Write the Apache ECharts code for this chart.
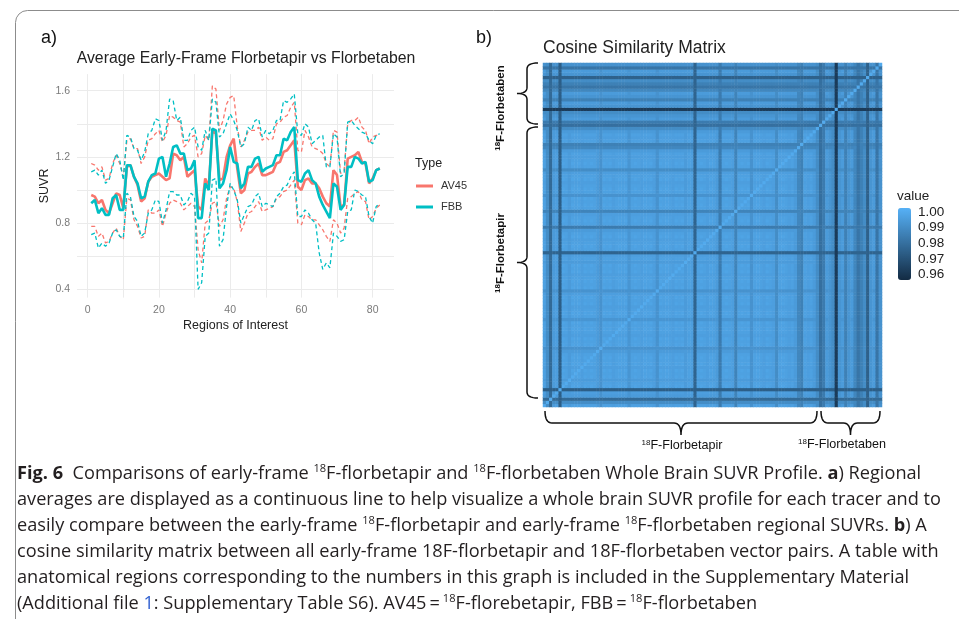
<!DOCTYPE html>
<html><head><meta charset="utf-8">
<script src="https://cdn.jsdelivr.net/npm/echarts@6/dist/echarts.min.js"></script>
<style>html,body{margin:0;padding:0;background:#fff}#c{width:959px;height:619px}</style>
</head><body><div id="c"></div>
<script>
// ---------- Panel a) data ----------
const regions = [1,2,3,4,5,6,7,8,9,10,11,12,13,14,15,16,17,18,19,20,21,22,23,24,25,26,27,28,29,30,31,32,33,34,35,36,37,38,39,40,41,42,43,44,45,46,47,48,49,50,51,52,53,54,55,56,57,58,59,60,61,62,63,64,65,66,67,68,69,70,71,72,73,74,75,76,77,78,79,80,81,82];
const av45Mean = [0.97,0.96,0.92,0.94,0.88,0.86,0.92,0.98,0.97,0.89,1.14,1.15,1.08,1.03,0.93,0.95,1.05,1.08,1.09,1.10,1.08,1.06,1.07,1.22,1.21,1.18,1.20,1.08,1.10,1.12,0.90,0.88,1.07,1.02,1.36,1.34,1.06,1.07,1.20,1.27,1.31,1.13,0.98,1.00,1.10,1.11,1.14,1.16,1.09,1.09,1.10,1.11,1.16,1.17,1.23,1.24,1.27,1.30,1.02,1.00,1.06,1.07,1.04,1.04,1.01,0.96,0.92,0.90,1.12,1.09,0.90,0.91,1.19,1.20,1.21,1.23,1.17,1.16,1.04,1.07,1.12,1.13];
const av45Upper = [1.16,1.15,1.12,1.14,1.06,1.07,1.16,1.21,1.16,1.08,1.30,1.31,1.25,1.25,1.16,1.20,1.30,1.31,1.34,1.36,1.29,1.33,1.45,1.44,1.42,1.41,1.26,1.28,1.32,1.33,1.20,1.22,1.33,1.30,1.63,1.61,1.36,1.42,1.52,1.56,1.57,1.38,1.26,1.30,1.35,1.36,1.36,1.38,1.30,1.32,1.30,1.31,1.40,1.41,1.44,1.45,1.50,1.53,1.24,1.23,1.36,1.32,1.26,1.25,1.24,1.22,1.16,1.14,1.36,1.35,1.10,1.12,1.40,1.42,1.42,1.44,1.38,1.36,1.28,1.32,1.33,1.33];
const av45Lower = [0.78,0.78,0.72,0.74,0.68,0.69,0.74,0.77,0.72,0.70,0.95,0.94,0.82,0.78,0.71,0.72,0.88,0.86,0.86,0.88,0.78,0.86,0.92,0.94,0.93,0.92,0.88,0.90,0.92,0.90,0.64,0.56,0.80,0.82,0.92,0.93,0.78,0.82,0.95,1.02,1.01,0.93,0.75,0.80,0.86,0.87,0.90,0.93,0.87,0.88,0.89,0.90,0.95,0.96,0.99,1.00,1.03,1.06,0.80,0.79,0.85,0.84,0.82,0.82,0.79,0.76,0.72,0.69,0.82,0.80,0.74,0.77,0.95,0.96,0.98,0.99,0.94,0.93,0.82,0.84,0.89,0.91];
const fbbMean = [0.92,0.94,0.86,0.89,0.85,0.85,0.95,0.97,0.88,0.88,1.15,1.15,1.08,1.04,0.95,0.96,1.05,1.09,1.10,1.19,1.20,1.08,1.16,1.26,1.27,1.22,1.22,1.12,1.13,1.18,0.83,0.83,1.04,1.00,1.37,1.36,1.01,1.04,1.12,1.26,1.17,1.16,1.01,1.04,1.14,1.14,1.19,1.20,1.11,1.13,1.14,1.15,1.21,1.21,1.31,1.30,1.35,1.38,1.06,1.05,1.10,1.12,1.06,1.04,0.96,0.91,0.87,0.83,1.04,1.02,0.88,0.91,1.14,1.14,1.20,1.19,1.16,1.17,1.05,1.06,1.12,1.13];
const fbbUpper = [1.11,1.12,1.09,1.12,1.04,1.06,1.14,1.22,1.18,1.06,1.33,1.32,1.25,1.24,1.18,1.23,1.34,1.36,1.43,1.42,1.30,1.36,1.55,1.54,1.42,1.44,1.30,1.30,1.36,1.38,1.26,1.24,1.36,1.30,1.55,1.53,1.32,1.34,1.40,1.46,1.42,1.36,1.26,1.28,1.38,1.36,1.42,1.43,1.32,1.36,1.34,1.36,1.42,1.42,1.54,1.53,1.55,1.58,1.34,1.33,1.40,1.38,1.28,1.30,1.32,1.33,1.14,1.14,1.34,1.32,1.08,1.10,1.41,1.42,1.39,1.37,1.35,1.34,1.30,1.28,1.33,1.34];
const fbbLower = [0.73,0.74,0.65,0.68,0.66,0.68,0.74,0.76,0.72,0.71,0.98,0.96,0.84,0.81,0.72,0.74,0.86,0.88,0.94,0.93,0.80,0.88,0.99,0.99,0.97,0.97,0.91,0.93,0.98,0.96,0.40,0.44,0.72,0.74,1.06,1.07,0.66,0.70,0.90,1.04,1.00,0.94,0.80,0.85,0.90,0.91,0.96,0.98,0.90,0.92,0.91,0.90,0.96,0.98,1.02,1.03,1.08,1.11,0.84,0.84,0.88,0.86,0.82,0.80,0.62,0.52,0.56,0.53,0.74,0.72,0.69,0.70,0.87,0.88,1.00,0.99,0.97,0.96,0.84,0.80,0.90,0.92];
const xTickLabels = [0,20,40,60,80];
const xGridValues = [0,10,20,30,40,50,60,70,80];
const yTickLabels = [0.4,0.8,1.2,1.6];
const yGridValues = [0.4,0.6,0.8,1.0,1.2,1.4,1.6];

// ---------- Panel b) data ----------
const nFlorbetapir = 88;
const nFlorbetaben = 20;
// estimated overall similarity level of each subject (row/column stripe darkness)
const subjectSimilarity = [
  0.997,0.990,0.978,0.995,0.996,0.974,0.998,0.997,0.995,0.998,
  0.997,0.998,0.996,0.998,0.997,0.998,0.997,0.995,0.992,0.998,
  0.997,0.998,0.996,0.997,0.998,0.997,0.998,0.993,0.997,0.998,
  0.997,0.996,0.998,0.997,0.998,0.996,0.992,0.998,0.997,0.998,
  0.997,0.996,0.998,0.997,0.998,0.995,0.997,0.996,0.976,0.997,
  0.998,0.997,0.996,0.998,0.997,0.995,0.984,0.997,0.998,0.997,
  0.996,0.987,0.997,0.998,0.997,0.998,0.992,0.997,0.998,0.997,
  0.996,0.998,0.997,0.996,0.990,0.997,0.998,0.997,0.996,0.997,
  0.995,0.988,0.986,0.997,0.996,0.997,0.995,0.990,0.980,0.984,
  0.995,0.993,0.990,0.962,0.993,0.995,0.986,0.993,0.995,0.988,
  0.982,0.986,0.990,0.975,0.993,0.995,0.982,0.992];
const legendTicks = [0.96,0.97,0.98,0.99,1.00];
const colorLow = '#132B43', colorHigh = '#56B1F7';
const scaleMin = 0.9565, scaleMax = 1.0025;

// ---------- build ----------
const N = nFlorbetapir + nFlorbetaben;
const subjects = [];
for (let i = 0; i < N; i++) subjects.push(i < nFlorbetapir ? 'AV45-' + (i + 1) : 'FBB-' + (i - nFlorbetapir + 1));
const cells = [];
for (let i = 0; i < N; i++) for (let j = 0; j < N; j++)
  cells.push([i, j, i === j ? 1 : Math.min(subjectSimilarity[i], subjectSimilarity[j])]);
const pairs = a => regions.map((r, i) => [r, a[i]]);

const RED = '#F8766D', TEAL = '#00BFC4';
const SANS = 'Liberation Sans, Arial, sans-serif';

function lineSeries(name, arr, color, dashed) {
  return {
    type: 'line', name, xAxisIndex: 0, yAxisIndex: 0, data: pairs(arr),
    symbol: 'none', showSymbol: false, silent: true, z: dashed ? 2 : 3,
    itemStyle: { color }, color,
    lineStyle: { color, width: dashed ? 1.3 : 2.6, type: dashed ? [4, 3] : 'solid' }
  };
}

// quadratic curve sampler for braces (annotation shapes)
function quad(p0, c, p1, out) {
  for (let k = 1; k <= 8; k++) {
    const t = k / 8, u = 1 - t;
    out.push([u * u * p0[0] + 2 * u * t * c[0] + t * t * p1[0], u * u * p0[1] + 2 * u * t * c[1] + t * t * p1[1]]);
  }
}
function vBrace(xe, xl, xt, y1, y2, r) {
  const ym = (y1 + y2) / 2, p = [[xe, y1]];
  quad([xe, y1], [xl, y1], [xl, y1 + r], p);
  p.push([xl, ym - r]);
  quad([xl, ym - r], [xl, ym], [xt, ym], p);
  quad([xt, ym], [xl, ym], [xl, ym + r], p);
  p.push([xl, y2 - r]);
  quad([xl, y2 - r], [xl, y2], [xe, y2], p);
  return p;
}
function hBrace(ye, yl, yt, x1, x2, r) {
  const xm = (x1 + x2) / 2, p = [[x1, ye]];
  quad([x1, ye], [x1, yl], [x1 + r, yl], p);
  p.push([xm - r, yl]);
  quad([xm - r, yl], [xm, yl], [xm, yt], p);
  quad([xm, yt], [xm, yl], [xm + r, yl], p);
  p.push([x2 - r, yl]);
  quad([x2 - r, yl], [x2, yl], [x2, ye], p);
  return p;
}
const braceStyle = { fill: 'none', stroke: '#111', lineWidth: 1.5 };

// caption
const CAP_FONT = 'Open Sans, sans-serif';
const CAP_SIZE = 18;
const capLines = [
  '{b|Fig. 6}  Comparisons of early-frame {s|18}F-florbetapir and {s|18}F-florbetaben Whole Brain SUVR Profile. {b|a}) Regional',
  'averages are displayed as a continuous line to help visualize a whole brain SUVR profile for each tracer and to',
  'easily compare between the early-frame {s|18}F-florbetapir and early-frame {s|18}F-florbetaben regional SUVRs. {b|b}) A',
  'cosine similarity matrix between all early-frame 18F-florbetapir and 18F-florbetaben vector pairs. A table with',
  'anatomical regions corresponding to the numbers in this graph is included in the Supplementary Material',
  '(Additional file {l|1}: Supplementary Table S6). AV45\u2009=\u2009{s|18}F-florebetapir, FBB\u2009=\u2009{s|18}F-florbetaben'
];
const mctx = document.createElement('canvas').getContext('2d');
mctx.font = CAP_SIZE + 'px ' + CAP_FONT;
const capScale = 924 / mctx.measureText(capLines[1]).width;
const capRich = {
  b: { fontFamily: CAP_FONT, fontSize: CAP_SIZE, fontWeight: 'bold', fill: '#231f20', lineHeight: 22 },
  s: { fontFamily: CAP_FONT, fontSize: 11, fill: '#231f20', verticalAlign: 'top', lineHeight: 22 },
  l: { fontFamily: CAP_FONT, fontSize: CAP_SIZE, fill: '#2f5fd0', lineHeight: 22 }
};
const supRich = w => ({ s: { fontFamily: SANS, fontSize: 8, fontWeight: w, fill: '#111', verticalAlign: 'top', lineHeight: 14 } });
const graphics = [
  { type: 'rect', silent: true, shape: { x: 15.5, y: 10.5, width: 980, height: 660, r: 12 }, style: { fill: 'none', stroke: '#8c8c8c', lineWidth: 1 } },
  { type: 'text', x: 41, y: 38, style: { text: 'a)', fontFamily: SANS, fontSize: 18, fill: '#111', verticalAlign: 'middle' } },
  { type: 'text', x: 476, y: 38, style: { text: 'b)', fontFamily: SANS, fontSize: 18, fill: '#111', verticalAlign: 'middle' } },
  { type: 'text', x: 246, y: 59, style: { text: 'Average Early-Frame Florbetapir vs Florbetaben', fontFamily: SANS, fontSize: 15.8, fill: '#222', align: 'center', verticalAlign: 'middle' } },
  { type: 'text', x: 415, y: 164, style: { text: 'Type', fontFamily: SANS, fontSize: 12.5, fill: '#222', verticalAlign: 'middle' } },
  { type: 'text', x: 543, y: 48, style: { text: 'Cosine Similarity Matrix', fontFamily: SANS, fontSize: 17.5, fill: '#222', verticalAlign: 'middle' } },
  { type: 'text', x: 897, y: 196, style: { text: 'value', fontFamily: SANS, fontSize: 13.5, fill: '#222', verticalAlign: 'middle' } },
  { type: 'polyline', silent: true, shape: { points: vBrace(538, 527, 517, 63, 124, 6) }, style: braceStyle },
  { type: 'polyline', silent: true, shape: { points: vBrace(538, 527, 517, 127, 398, 6) }, style: braceStyle },
  { type: 'polyline', silent: true, shape: { points: hBrace(411, 423, 435, 545, 817, 7) }, style: braceStyle },
  { type: 'polyline', silent: true, shape: { points: hBrace(411, 423, 435, 821, 880, 7) }, style: braceStyle },
  { type: 'text', x: 501, y: 108, rotation: Math.PI / 2, style: { text: '{s|18}F-Florbetaben', fontFamily: SANS, fontSize: 11.5, fontWeight: 'bold', fill: '#111', align: 'center', verticalAlign: 'middle', rich: supRich('bold') } },
  { type: 'text', x: 501, y: 253, rotation: Math.PI / 2, style: { text: '{s|18}F-Florbetapir', fontFamily: SANS, fontSize: 11.5, fontWeight: 'bold', fill: '#111', align: 'center', verticalAlign: 'middle', rich: supRich('bold') } },
  { type: 'text', x: 682, y: 446, style: { text: '{s|18}F-Florbetapir', fontFamily: SANS, fontSize: 12.6, fill: '#111', align: 'center', verticalAlign: 'middle', rich: supRich('normal') } },
  { type: 'text', x: 842, y: 445, style: { text: '{s|18}F-Florbetaben', fontFamily: SANS, fontSize: 12.6, fill: '#111', align: 'center', verticalAlign: 'middle', rich: supRich('normal') } }
];
capLines.forEach((t, i) => {
  graphics.push({ type: 'text', x: 17, y: 474 + i * 26, scaleX: capScale, style: { text: t, fontFamily: CAP_FONT, fontSize: CAP_SIZE, fill: '#231f20', verticalAlign: 'middle', lineHeight: 22, rich: capRich } });
});

const chart = echarts.init(document.getElementById('c'), null, { renderer: 'canvas' });
chart.setOption({
  animation: false,
  backgroundColor: '#fff',
  grid: [
    { left: 77, top: 74.15, width: 317, height: 223.45 },
    { left: 543, top: 63, width: 339, height: 344 },
    { left: 898, top: 208, width: 13, height: 72 }
  ],
  xAxis: [
    { gridIndex: 0, type: 'value', min: -3, max: 86,
      name: 'Regions of Interest', nameLocation: 'middle', nameGap: 21,
      nameTextStyle: { fontFamily: SANS, fontSize: 12.5, color: '#222' },
      axisLine: { show: false }, axisTick: { show: false, customValues: xGridValues },
      axisLabel: { customValues: xTickLabels, fontFamily: SANS, fontSize: 10.5, color: '#7a7a7a', margin: 7 },
      splitLine: { show: true, lineStyle: { color: '#EBEBEB', width: 1 } } },
    { gridIndex: 1, type: 'category', data: subjects, show: false },
    { gridIndex: 2, type: 'value', min: 0, max: 1, show: false }
  ],
  yAxis: [
    { gridIndex: 0, type: 'value', min: 0.35, max: 1.7,
      name: 'SUVR', nameLocation: 'middle', nameGap: 25, nameRotate: 90,
      nameTextStyle: { fontFamily: SANS, fontSize: 12.5, color: '#222' },
      axisLine: { show: false }, axisTick: { show: false, customValues: yGridValues },
      axisLabel: { customValues: yTickLabels, formatter: v => v.toFixed(1), fontFamily: SANS, fontSize: 10.5, color: '#7a7a7a', margin: 7 },
      splitLine: { show: true, lineStyle: { color: '#EBEBEB', width: 1 } } },
    { gridIndex: 1, type: 'category', data: subjects, show: false },
    { gridIndex: 2, type: 'value', min: scaleMin, max: scaleMax, position: 'right',
      axisLine: { show: false },
      axisTick: { show: true, inside: true, length: 3, customValues: legendTicks, lineStyle: { color: '#fff', width: 1 } },
      axisLabel: { customValues: legendTicks, formatter: v => v.toFixed(2), fontFamily: SANS, fontSize: 13.5, color: '#222', margin: 7 },
      splitLine: { show: false } },
    { gridIndex: 2, type: 'value', min: scaleMin, max: scaleMax, position: 'left',
      axisLine: { show: false },
      axisTick: { show: true, inside: true, length: 3, customValues: legendTicks, lineStyle: { color: '#fff', width: 1 } },
      axisLabel: { show: false }, splitLine: { show: false } }
  ],
  legend: {
    data: ['AV45', 'FBB'], orient: 'vertical', left: 416, top: 180, padding: 0,
    itemWidth: 17, itemHeight: 3, itemGap: 9, icon: 'rect', selectedMode: false,
    textStyle: { fontFamily: SANS, fontSize: 11, color: '#333', lineHeight: 12, padding: [0, 0, 0, 3] }
  },
  visualMap: {
    type: 'continuous', seriesIndex: 6, min: scaleMin, max: scaleMax, calculable: false,
    orient: 'vertical', left: 898, top: 208, itemWidth: 13, itemHeight: 72, padding: 0,
    showLabel: false, hoverLink: false,
    inRange: { color: [colorLow, colorHigh] }
  },
  series: [
    lineSeries('AV45 upper', av45Upper, RED, true),
    lineSeries('AV45 lower', av45Lower, RED, true),
    lineSeries('FBB upper', fbbUpper, TEAL, true),
    lineSeries('FBB lower', fbbLower, TEAL, true),
    lineSeries('AV45', av45Mean, RED, false),
    lineSeries('FBB', fbbMean, TEAL, false),
    { type: 'heatmap', xAxisIndex: 1, yAxisIndex: 1, data: cells, progressive: 0, silent: true,
      itemStyle: { borderWidth: 0 } }
  ],
  graphic: graphics
});
</script></body></html>
